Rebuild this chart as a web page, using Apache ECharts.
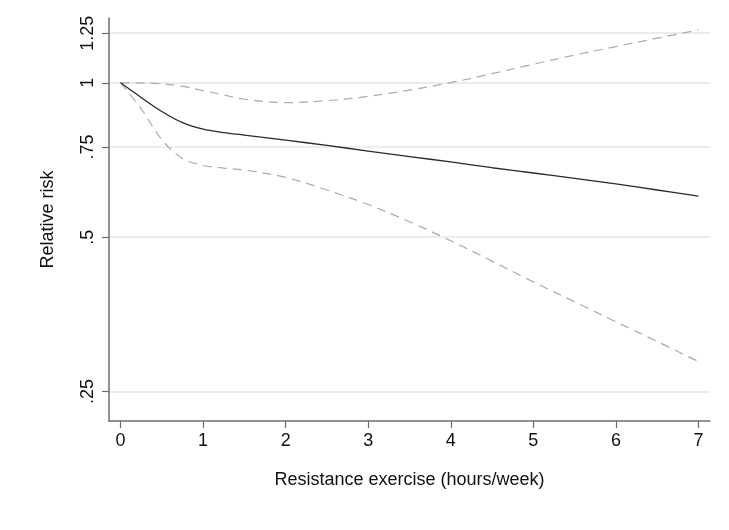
<!DOCTYPE html>
<html>
<head>
<meta charset="utf-8">
<script src="https://cdn.jsdelivr.net/npm/echarts@6/dist/echarts.min.js"></script>
<style>html,body{margin:0;padding:0;background:#fff;}#c{width:729px;height:530px;}</style>
</head>
<body>
<div id="c"></div>
<script>
const xValues = [0, 0.25, 0.5, 0.75, 1, 1.25, 1.5, 2, 2.5, 3, 3.5, 4, 4.5, 5, 5.5, 6, 6.5, 7];
const rrEstimate = [1, 0.936, 0.879, 0.836, 0.812, 0.800, 0.791, 0.773, 0.755, 0.736, 0.718, 0.701, 0.683, 0.667, 0.651, 0.635, 0.618, 0.601];
const rrUpper = [1, 0.999, 0.996, 0.984, 0.966, 0.947, 0.929, 0.915, 0.923, 0.941, 0.968, 1.001, 1.042, 1.087, 1.133, 1.177, 1.222, 1.268];
const rrLower = [1, 0.890, 0.775, 0.712, 0.690, 0.682, 0.676, 0.654, 0.618, 0.579, 0.536, 0.492, 0.449, 0.409, 0.374, 0.342, 0.313, 0.286];
const xTickValues = [0, 1, 2, 3, 4, 5, 6, 7];
const yTickValues = [0.25, 0.5, 0.75, 1, 1.25];
const yTickLabels = ['.25', '.5', '.75', '1', '1.25'];
const xTitle = 'Resistance exercise (hours/week)';
const yTitle = 'Relative risk';

const pair = arr => xValues.map((x, i) => [x, arr[i]]);
const font = 'Liberation Sans, Arial, Helvetica, sans-serif';

const chart = echarts.init(document.getElementById('c'), null, {renderer: 'canvas'});
chart.setOption({
  animation: false,
  backgroundColor: '#ffffff',
  grid: {left: 109, right: 19, top: 18, bottom: 109, containLabel: false},
  xAxis: {
    type: 'value', min: -0.14, max: 7.14,
    name: xTitle, nameLocation: 'middle', nameGap: 50,
    nameTextStyle: {fontFamily: font, fontSize: 18, color: '#111'},
    axisLine: {show: true, onZero: false, lineStyle: {color: '#6e6e6e', width: 1.5}},
    axisTick: {show: true, length: 7, customValues: xTickValues, lineStyle: {color: '#6e6e6e', width: 1.2}},
    axisLabel: {customValues: xTickValues, margin: 11, fontFamily: font, fontSize: 18, color: '#111'},
    splitLine: {show: false}
  },
  yAxis: {
    type: 'log', logBase: 10, min: 0.219, max: 1.338,
    name: yTitle, nameLocation: 'middle', nameGap: 52, nameRotate: 90,
    nameTextStyle: {fontFamily: font, fontSize: 18, color: '#111'},
    axisLine: {show: true, onZero: false, lineStyle: {color: '#6e6e6e', width: 1.5}},
    axisTick: {show: true, length: 7, customValues: yTickValues, lineStyle: {color: '#6e6e6e', width: 1.2}},
    axisLabel: {
      customValues: yTickValues, rotate: 90, margin: 12,
      fontFamily: font, fontSize: 18, color: '#111',
      formatter: v => {
        const i = yTickValues.findIndex(t => Math.abs(t - v) < 1e-6);
        return i >= 0 ? yTickLabels[i] : '';
      }
    },
    splitLine: {show: true, lineStyle: {color: '#e6e6e6', width: 1.5}}
  },
  series: [
    {type: 'line', data: pair(rrUpper), smooth: 0.35, showSymbol: false,
     lineStyle: {color: '#ababab', width: 1.2, type: [9, 6]}},
    {type: 'line', data: pair(rrLower), smooth: 0.35, showSymbol: false,
     lineStyle: {color: '#ababab', width: 1.2, type: [9, 6]}},
    {type: 'line', data: pair(rrEstimate), smooth: 0.35, showSymbol: false,
     lineStyle: {color: '#2a2a2a', width: 1.3}}
  ]
});
</script>
</body>
</html>
